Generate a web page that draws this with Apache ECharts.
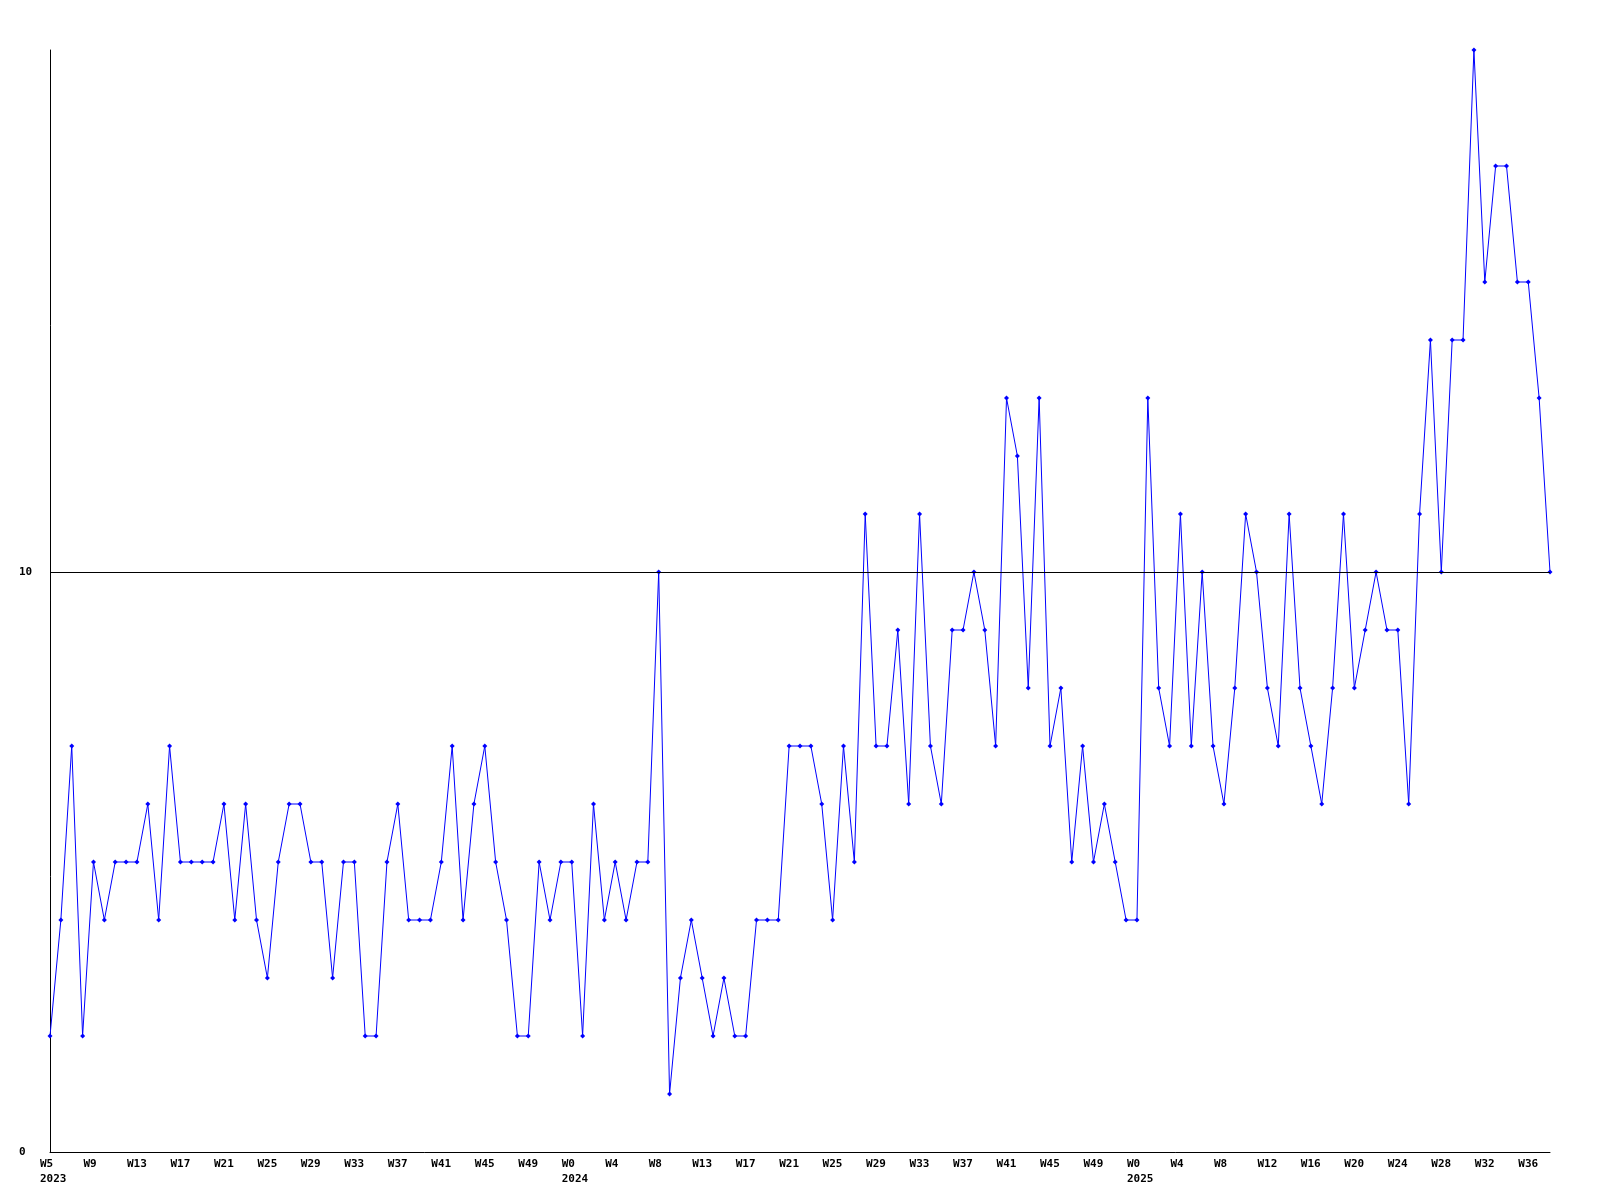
<!DOCTYPE html>
<html>
<head>
<meta charset="utf-8">
<script src="https://cdn.jsdelivr.net/npm/echarts@6/dist/echarts.min.js"></script>
<style>
html,body{margin:0;padding:0;background:#fff;}
#chart{width:1600px;height:1200px;}
</style>
</head>
<body>
<div id="chart"></div>
<script>
// Week labels per year
var weeks2023 = ['W5','W6','W7','W8','W9','W10','W11','W12','W13','W14','W15','W16','W17','W18','W19','W20','W21','W22','W23','W24','W25','W26','W27','W28','W29','W30','W31','W32','W33','W34','W35','W36','W37','W38','W39','W40','W41','W42','W43','W44','W45','W46','W47','W48','W49','W50','W51','W52'];
var weeks2024 = ['W0','W1','W2','W3','W4','W5','W6','W7','W8','W9','W10','W12','W13','W14','W15','W16','W17','W18','W19','W20','W21','W22','W23','W24','W25','W26','W27','W28','W29','W30','W31','W32','W33','W34','W35','W36','W37','W38','W39','W40','W41','W42','W43','W44','W45','W46','W47','W48','W49','W50','W51','W52'];
var weeks2025 = ['W0','W1','W2','W3','W4','W5','W6','W7','W8','W9','W10','W11','W12','W13','W14','W15','W16','W17','W18','W19','W20','W21','W22','W23','W24','W25','W26','W27','W28','W29','W30','W31','W32','W33','W34','W35','W36','W37','W38'];
var years = ['2023','2024','2025'];

// Weekly values
var values2023 = [2,4,7,2,5,4,5,5,5,6,4,7,5,5,5,5,6,4,6,4,3,5,6,6,5,5,3,5,5,2,2,5,6,4,4,4,5,7,4,6,7,5,4,2,2,5,4,5];
var values2024 = [5,2,6,4,5,4,5,5,10,1,3,4,3,2,3,2,2,4,4,4,7,7,7,6,4,7,5,11,7,7,9,6,11,7,6,9,9,10,9,7,13,12,8,13,7,8,5,7,5,6,5,4];
var values2025 = [4,13,8,7,11,7,10,7,6,8,11,10,8,7,11,8,7,6,8,11,8,9,10,9,9,6,11,14,10,14,14,19,15,17,17,15,15,13,10];

// y-axis tick labels
var yTickLabels = [0, 10];
var refLineValue = 10;

var categories = weeks2023.concat(weeks2024, weeks2025);
var values = values2023.concat(values2024, values2025);
var yearStart = {};
yearStart[0] = years[0];
yearStart[weeks2023.length] = years[1];
yearStart[weeks2023.length + weeks2024.length] = years[2];

var chart = echarts.init(document.getElementById('chart'), null, {renderer: 'canvas'});
var font = '"DejaVu Sans Mono", "Liberation Mono", monospace';
chart.setOption({
  backgroundColor: '#ffffff',
  animation: false,
  grid: {left: 50, right: 50, top: 50, bottom: 48, containLabel: false},
  xAxis: {
    type: 'category',
    data: categories,
    boundaryGap: false,
    axisLine: {show: true, onZero: false, lineStyle: {color: '#000', width: 1}},
    axisTick: {show: false},
    splitLine: {show: false},
    axisLabel: {
      interval: 3,
      margin: 5,
      align: 'left',
      padding: [0, 0, 0, -10],
      fontFamily: font,
      fontWeight: 'bold',
      fontSize: 11,
      lineHeight: 15,
      color: '#000',
      formatter: function (v, i) {
        return yearStart[i] ? v + '\n' + yearStart[i] : v;
      }
    }
  },
  yAxis: {
    type: 'value',
    min: 0,
    max: 19,
    interval: 10,
    axisLine: {show: true, lineStyle: {color: '#000', width: 1}},
    axisTick: {show: false},
    splitLine: {show: false},
    axisLabel: {
      margin: 31,
      align: 'left',
      fontFamily: font,
      fontWeight: 'bold',
      fontSize: 11,
      color: '#000',
      formatter: function (v) {
        return yTickLabels.indexOf(v) >= 0 ? String(v) : '';
      }
    }
  },
  series: [{
    type: 'line',
    data: values,
    symbol: 'diamond',
    symbolSize: 5,
    showAllSymbol: true,
    lineStyle: {color: '#0000ff', width: 1},
    itemStyle: {color: '#0000ff'},
    markLine: {
      silent: true,
      symbol: ['none', 'none'],
      label: {show: false},
      lineStyle: {color: '#000', width: 1, type: 'solid'},
      data: [{yAxis: refLineValue}]
    }
  }]
});
</script>
</body>
</html>
